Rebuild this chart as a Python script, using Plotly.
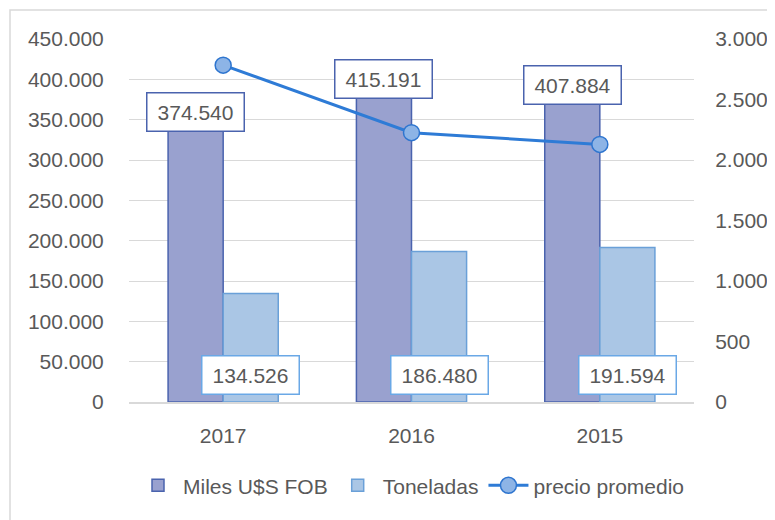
import plotly.graph_objects as go

years = ["2017", "2016", "2015"]
miles_fob = [374540, 415191, 407884]
toneladas = [134526, 186480, 191594]
precio = [2784, 2226, 2129]

# page body has an 8px margin; the figure is sized to fit the 775x520 window
PAD = 8
W, H = 775 - PAD, 520 - PAD
L, T = 129 - PAD, 39 - PAD
R = W - (694 - PAD)
B = H - (402 - PAD)
bargap = 0.415
off = (1 - bargap) / 4

FONT = "Liberation Sans"
GRAY = "#595959"
FS = 21

def fmt(v):
    return f"{v:,}".replace(",", ".")

fig = go.Figure()
fig.add_trace(go.Bar(
    x=years, y=miles_fob, name="Miles U$S FOB",
    marker=dict(color="#99A1CF", line=dict(color="#4A63AE", width=1.5)),
))
fig.add_trace(go.Bar(
    x=years, y=toneladas, name="Toneladas",
    marker=dict(color="#AAC6E5", line=dict(color="#6AA0D8", width=1.5)),
))
fig.add_trace(go.Scatter(
    x=years, y=precio, name="precio promedio", yaxis="y2",
    mode="lines+markers",
    line=dict(color="#2E7BD6", width=3),
    marker=dict(size=16, color="#8DB4E6", line=dict(color="#2E75CF", width=1.5)),
))

annotations = []
for i, v in enumerate(miles_fob):
    annotations.append(dict(
        x=i - off, y=v, xref="x", yref="y", text=fmt(v), showarrow=False,
        yanchor="middle", yshift=-12, width=94, height=35,
        bgcolor="white", bordercolor="#4A63AE", borderwidth=1.5,
        font=dict(family=FONT, size=FS, color=GRAY),
    ))
for i, v in enumerate(toneladas):
    annotations.append(dict(
        x=i + off, y=0, xref="x", yref="y", text=fmt(v), showarrow=False,
        yanchor="bottom", yshift=7, width=94, height=35,
        bgcolor="white", bordercolor="#6AA8E6", borderwidth=1.5,
        font=dict(family=FONT, size=FS, color=GRAY),
    ))

ph = H - T - B
pw = W - L - R
fig.add_shape(type="rect", xref="paper", yref="paper",
              x0=(2 - L) / pw, x1=(W + 20 - L) / pw,
              y0=(H - B - (H + 20)) / ph, y1=(H - B - 2) / ph,
              line=dict(color="#D9D9D9", width=1.5), layer="below")

fig.update_layout(
    width=W, height=H,
    margin=dict(l=L, r=R, t=T, b=B, autoexpand=False),
    paper_bgcolor="white", plot_bgcolor="white",
    separators=",.",
    barmode="group", bargap=bargap, bargroupgap=0,
    font=dict(family=FONT, size=FS, color=GRAY),
    xaxis=dict(showline=True, linecolor="#D9D9D9", linewidth=1.5,
               ticks="outside", ticklen=14, tickcolor="rgba(0,0,0,0)",
               tickfont=dict(size=FS, color=GRAY)),
    yaxis=dict(range=[0, 450000], dtick=50000, tickformat=",d",
               showgrid=True, gridcolor="#D9D9D9", gridwidth=1,
               zeroline=False,
               ticks="outside", ticklen=20, tickcolor="rgba(0,0,0,0)",
               tickfont=dict(size=FS, color=GRAY)),
    yaxis2=dict(range=[0, 3000], dtick=500, tickformat=",d",
                overlaying="y", side="right", showgrid=False, zeroline=False,
                ticks="outside", ticklen=16, tickcolor="rgba(0,0,0,0)",
                tickfont=dict(size=FS, color=GRAY)),
    legend=dict(orientation="h", x=0.5, xanchor="center", y=-0.174, yanchor="top",
                font=dict(size=FS, color=GRAY), itemwidth=40,
                bgcolor="rgba(0,0,0,0)"),
    annotations=annotations,
    showlegend=True,
)

fig.write_html("out.html")
